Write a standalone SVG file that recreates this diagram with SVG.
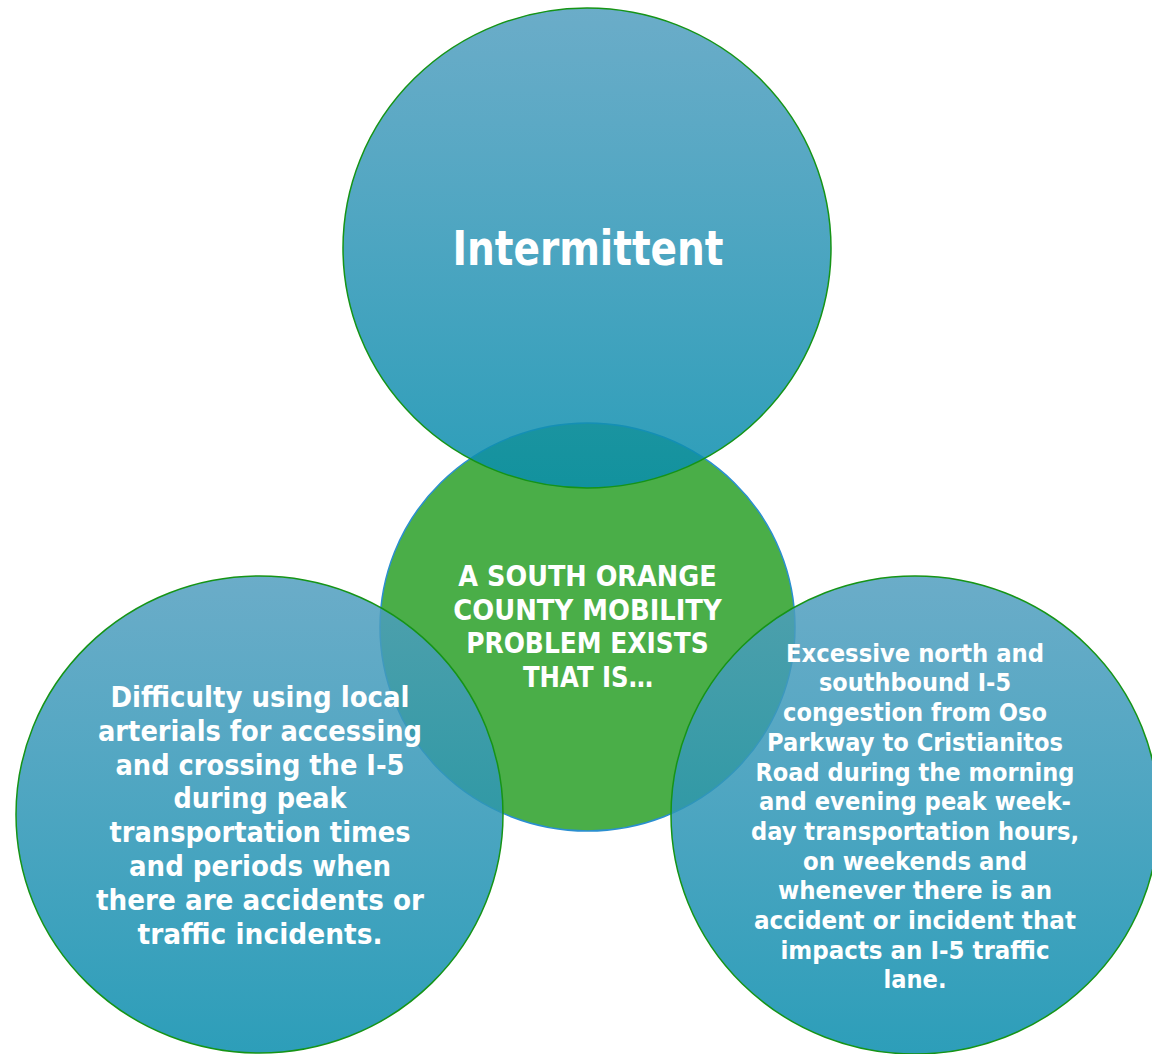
<svg xmlns="http://www.w3.org/2000/svg" width="1152" height="1054" viewBox="0 0 1152 1054">
<defs>
<linearGradient id="blueGrad" x1="0" y1="0" x2="0" y2="1">
<stop offset="0" stop-color="rgb(81,158,191)"/>
<stop offset="1" stop-color="rgb(8,141,173)"/>
</linearGradient>
<style>
.blue{fill:url(#blueGrad);fill-opacity:0.85;stroke:#169416;stroke-width:1.5}
.green{fill:#4aae48;stroke:#2a8fd0;stroke-width:1.5}
text{font-family:"DejaVu Sans","Noto Sans",sans-serif;font-weight:bold;fill:#ffffff;text-anchor:middle}
.t1{font-size:48px}
.t2{font-size:28.5px}
.t3{font-size:27.5px}
.t4{font-size:24px}
</style>
</defs>
<rect width="1152" height="1054" fill="#ffffff"/>
<g id="center">
<ellipse class="green" cx="587.5" cy="627" rx="207.5" ry="204"/>
<text class="t2" x="587.5" y="586" textLength="258.4" lengthAdjust="spacingAndGlyphs">A SOUTH ORANGE</text>
<text class="t2" x="587.5" y="620" textLength="268.4" lengthAdjust="spacingAndGlyphs">COUNTY MOBILITY</text>
<text class="t2" x="587.5" y="653.3" textLength="242.6" lengthAdjust="spacingAndGlyphs">PROBLEM EXISTS</text>
<text class="t2" x="588" y="686.7" textLength="130" lengthAdjust="spacingAndGlyphs">THAT IS…</text>
</g>
<g id="top">
<ellipse class="blue" cx="587" cy="248" rx="244" ry="240"/>
<text class="t1" x="588" y="265" textLength="271" lengthAdjust="spacingAndGlyphs">Intermittent</text>
</g>
<g id="left">
<ellipse class="blue" cx="259.5" cy="814.5" rx="243.5" ry="238.5"/>
<text class="t3" x="260" y="707" textLength="299" lengthAdjust="spacingAndGlyphs">Difficulty using local</text>
<text class="t3" x="260" y="740.8" textLength="324" lengthAdjust="spacingAndGlyphs">arterials for accessing</text>
<text class="t3" x="260" y="774.6" textLength="289" lengthAdjust="spacingAndGlyphs">and crossing the I-5</text>
<text class="t3" x="260" y="808.4" textLength="173" lengthAdjust="spacingAndGlyphs">during peak</text>
<text class="t3" x="260" y="842.2" textLength="301" lengthAdjust="spacingAndGlyphs">transportation times</text>
<text class="t3" x="260" y="876" textLength="262" lengthAdjust="spacingAndGlyphs">and periods when</text>
<text class="t3" x="260" y="909.8" textLength="328" lengthAdjust="spacingAndGlyphs">there are accidents or</text>
<text class="t3" x="260" y="943.6" textLength="245" lengthAdjust="spacingAndGlyphs">traffic incidents.</text>
</g>
<g id="right">
<ellipse class="blue" cx="915" cy="815" rx="244" ry="239"/>
<text class="t4" x="915" y="661.7" textLength="258" lengthAdjust="spacingAndGlyphs">Excessive north and</text>
<text class="t4" x="915" y="691.4" textLength="192" lengthAdjust="spacingAndGlyphs">southbound I-5</text>
<text class="t4" x="915" y="721.1" textLength="264" lengthAdjust="spacingAndGlyphs">congestion from Oso</text>
<text class="t4" x="915" y="750.8" textLength="296" lengthAdjust="spacingAndGlyphs">Parkway to Cristianitos</text>
<text class="t4" x="915" y="780.5" textLength="319" lengthAdjust="spacingAndGlyphs">Road during the morning</text>
<text class="t4" x="915" y="810.2" textLength="312" lengthAdjust="spacingAndGlyphs">and evening peak week-</text>
<text class="t4" x="915" y="839.9" textLength="328" lengthAdjust="spacingAndGlyphs">day transportation hours,</text>
<text class="t4" x="915" y="869.6" textLength="224" lengthAdjust="spacingAndGlyphs">on weekends and</text>
<text class="t4" x="915" y="899.3" textLength="274" lengthAdjust="spacingAndGlyphs">whenever there is an</text>
<text class="t4" x="915" y="929" textLength="322" lengthAdjust="spacingAndGlyphs">accident or incident that</text>
<text class="t4" x="915" y="958.7" textLength="269" lengthAdjust="spacingAndGlyphs">impacts an I-5 traffic</text>
<text class="t4" x="915" y="988.4" textLength="63" lengthAdjust="spacingAndGlyphs">lane.</text>
</g>
<g id="connectors"/>
</svg>
